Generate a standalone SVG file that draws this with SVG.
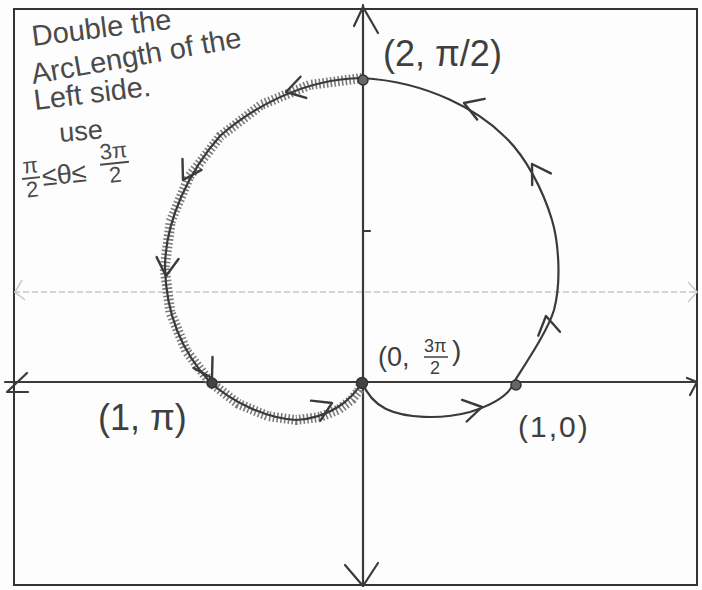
<svg xmlns="http://www.w3.org/2000/svg" width="702" height="590" viewBox="0 0 702 590">
<style>
.ink{fill:none;stroke:#3a3a3a;stroke-width:2.2;stroke-linecap:round;stroke-linejoin:round}
.faint{fill:none;stroke:#c8c8c8;stroke-width:1.5;stroke-dasharray:6 3}
.hand{font-family:"Liberation Sans","DejaVu Sans",sans-serif;fill:#4a4a4a}
.lbl{font-family:"Liberation Sans","DejaVu Sans",sans-serif;fill:#3f3f3f}
</style>
<defs>
<path id="chev" d="M-18,-11 L0,0 L-18,11" fill="none" stroke="#3a3a3a" stroke-width="2.4" stroke-linecap="round" stroke-linejoin="round"/>
</defs>
<rect width="702" height="590" fill="#fdfdfd"/>
<g id="frame">
<rect x="14" y="9" width="683" height="576" fill="none" stroke="#333" stroke-width="2"/>
</g>
<g id="grid">
<line x1="14" y1="292" x2="697" y2="292" class="faint"/>
<path d="M22,280 L15,292 L25,300" class="faint" style="stroke-dasharray:none"/>
<path d="M688,282 L697,292 L688,302" class="faint" style="stroke-dasharray:none"/>
</g>
<g id="connectors">
<g id="axes">
<line x1="363" y1="5" x2="363" y2="586" class="ink"/>
<line x1="5" y1="382" x2="697" y2="382" class="ink"/>
<path d="M354,26 L363,7 L378,33" class="ink"/>
<path d="M345,565 L363,586 L378,563" class="ink"/>
<path d="M27,373 L7,392 L28,392" class="ink"/>
<path d="M687,378 L697,382 L690,395" class="ink"/>
<line x1="363" y1="231" x2="370" y2="231" class="ink"/>
</g>
<g id="curve">
<path id="lefttrace" d="M362,78 L309.6,84.9 L261.2,104.9 L220.2,136.4 L189.4,176.4 L170.7,221.5 L164.6,268 L170.3,312.2 L186.3,351 L210,382 L238.3,403.8 L268,416.2 L296.2,420 L320.4,416.9 L339.1,409.2 L351.8,399.6 L358.9,390.6 L362,382" fill="none" stroke="#7a7a7a" stroke-width="10" stroke-dasharray="1.6 2.2" stroke-linejoin="round"/>
<path d="M362,382 C366,392 372,402 386,409 C405,418 440,420 470,412 C495,404 510,395 514,382 C528,360 548,330 554,310 C562,280 558,240 552,220 C543,190 525,155 504,136 C480,112 430,82 362,78 C300,79 250,110 220,136 C190,170 165,220 165,268 C166,310 180,350 210,382 C232,402 265,418 296,420 C330,418 352,400 362,382" class="ink"/>
</g>
<g id="arrows">
<use href="#chev" transform="translate(546,316) rotate(-100)"/>
<use href="#chev" transform="translate(532,164) rotate(-122)"/>
<use href="#chev" transform="translate(464,103) rotate(-160)"/>
<use href="#chev" transform="translate(482,407) rotate(-12)"/>
<use href="#chev" transform="translate(286,92) rotate(165)"/>
<use href="#chev" transform="translate(183,180) rotate(120)"/>
<use href="#chev" transform="translate(166,276) rotate(95)"/>
<use href="#chev" transform="translate(212,378) rotate(60)"/>
<use href="#chev" transform="translate(332,403) rotate(-25)"/>
</g>
</g>
<g id="points">
<g id="p-2-pi2"><circle cx="363" cy="80" r="5" fill="#666" stroke="#333" stroke-width="1.5"/></g>
<g id="p-1-pi"><circle cx="212" cy="383" r="5" fill="#444" stroke="#333" stroke-width="1.5"/></g>
<g id="p-0-3pi2"><circle cx="362" cy="383" r="5.5" fill="#444" stroke="#333" stroke-width="1.5"/></g>
<g id="p-1-0"><circle cx="516" cy="385" r="5" fill="#666" stroke="#333" stroke-width="1.5"/></g>
</g>
<g id="labels">
<g id="l-2-pi2"><text x="383" y="66" class="lbl" font-size="36">(2, π/2)</text></g>
<g id="l-0-3pi2"><text x="378" y="366" class="lbl" font-size="27">(0,</text><text x="424" y="352" class="lbl" font-size="18">3π</text><line x1="424" y1="357" x2="448" y2="357" stroke="#3f3f3f" stroke-width="1.5"/><text x="430" y="374" class="lbl" font-size="18">2</text><text x="452" y="360" class="lbl" font-size="28">)</text></g>
<g id="l-1-pi"><text x="98" y="430" class="lbl" font-size="36">(1, π)</text></g>
<g id="l-1-0"><text x="518" y="437" class="lbl" font-size="30" letter-spacing="2">(1,0)</text></g>
</g>
<g id="note">
<text transform="translate(33,46) rotate(-7)" class="hand" font-size="29">Double the</text>
<text transform="translate(33,84) rotate(-10)" class="hand" font-size="29">ArcLength of the</text>
<text transform="translate(35,110) rotate(-7)" class="hand" font-size="29">Left side.</text>
<text transform="translate(60,142) rotate(-5)" class="hand" font-size="27">use</text>
<g transform="translate(22,178) rotate(-6)">
<text x="2" y="-4" class="hand" font-size="22">π</text>
<line x1="0" y1="1" x2="18" y2="1" stroke="#4a4a4a" stroke-width="1.8"/>
<text x="3" y="20" class="hand" font-size="22">2</text>
<text x="20" y="10" class="hand" font-size="27">≤θ≤</text>
<text x="80" y="-10" class="hand" font-size="22">3π</text>
<line x1="79" y1="-5" x2="108" y2="-5" stroke="#4a4a4a" stroke-width="1.8"/>
<text x="87" y="14" class="hand" font-size="22">2</text>
</g>
</g>
</svg>
